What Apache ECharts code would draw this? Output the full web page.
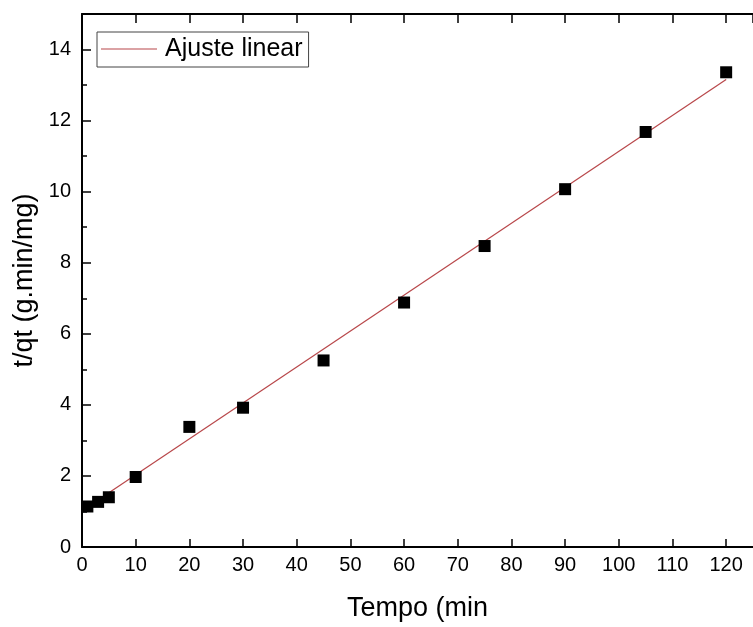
<!DOCTYPE html>
<html>
<head>
<meta charset="utf-8">
<script src="https://cdn.jsdelivr.net/npm/echarts@6/dist/echarts.min.js"></script>
<style>html,body{margin:0;padding:0;background:#fff}#c{width:753px;height:627px}</style>
</head>
<body>
<div id="c"></div>
<script>
const tempo = [1, 3, 5, 10, 20, 30, 45, 60, 75, 90, 105, 120];
const tqt = [1.14, 1.27, 1.40, 1.97, 3.38, 3.92, 5.25, 6.88, 8.47, 10.07, 11.68, 13.36];
const fitX = [0, 120];
const fitY = [1.02, 13.16];
const legendLabel = 'Ajuste linear';
const xTitle = 'Tempo (min';
const yTitle = 't/qt (g.min/mg)';

const font = 'Liberation Sans, Arial, sans-serif';
const chart = echarts.init(document.getElementById('c'));
chart.setOption({
  animation: false,
  backgroundColor: '#fff',
  grid: {left: 82, right: -4, top: 14, bottom: 78, containLabel: false},
  legend: {
    data: [{name: legendLabel, icon: 'path://M0,0H56V1.2H0Z'}],
    left: 97, top: 32, itemWidth: 56, itemHeight: 14, itemGap: 0,
    padding: [2, 6, 3, 4], borderColor: '#444', borderWidth: 1,
    textStyle: {fontFamily: font, fontSize: 25, color: '#000', lineHeight: 30, padding: [0, 0, 0, 3]}
  },
  xAxis: [{
    type: 'value', min: 0, max: 125, interval: 10, position: 'bottom',
    axisLine: {onZero: false, lineStyle: {color: '#000', width: 2}},
    axisTick: {inside: true, length: 8, lineStyle: {color: '#000', width: 1.5}},
    axisLabel: {fontFamily: font, fontSize: 20, color: '#000', margin: 8, showMaxLabel: false},
    splitLine: {show: false},
    name: xTitle, nameLocation: 'middle', nameGap: 48,
    nameTextStyle: {fontFamily: font, fontSize: 27, color: '#000'}
  }, {
    type: 'value', min: 0, max: 125, interval: 10, position: 'top',
    axisLine: {onZero: false, lineStyle: {color: '#000', width: 2}},
    axisTick: {inside: true, length: 9, lineStyle: {color: '#000', width: 1.5}},
    axisLabel: {show: false}, splitLine: {show: false}
  }],
  yAxis: {
    type: 'value', min: 0, max: 15, interval: 2,
    axisLine: {onZero: false, lineStyle: {color: '#000', width: 2}},
    axisTick: {inside: true, length: 9, lineStyle: {color: '#000', width: 1.5}},
    minorTick: {show: true, splitNumber: 2, length: 5, lineStyle: {color: '#000', width: 1.5}},
    axisLabel: {fontFamily: font, fontSize: 20, color: '#000', margin: 11, showMaxLabel: false},
    splitLine: {show: false},
    name: yTitle, nameLocation: 'middle', nameGap: 42, nameRotate: 90,
    nameTextStyle: {fontFamily: font, fontSize: 27, color: '#000'}
  },
  series: [{
    name: 'dados', type: 'scatter', symbol: 'rect', symbolSize: 12,
    itemStyle: {color: '#000', opacity: 1},
    data: tempo.map((t, i) => [t, tqt[i]]), z: 3
  }, {
    name: legendLabel, type: 'line', symbol: 'none',
    lineStyle: {color: '#b8474a', width: 1.2}, itemStyle: {color: '#b8474a'},
    data: fitX.map((t, i) => [t, fitY[i]]), z: 2
  }]
});
</script>
</body>
</html>
